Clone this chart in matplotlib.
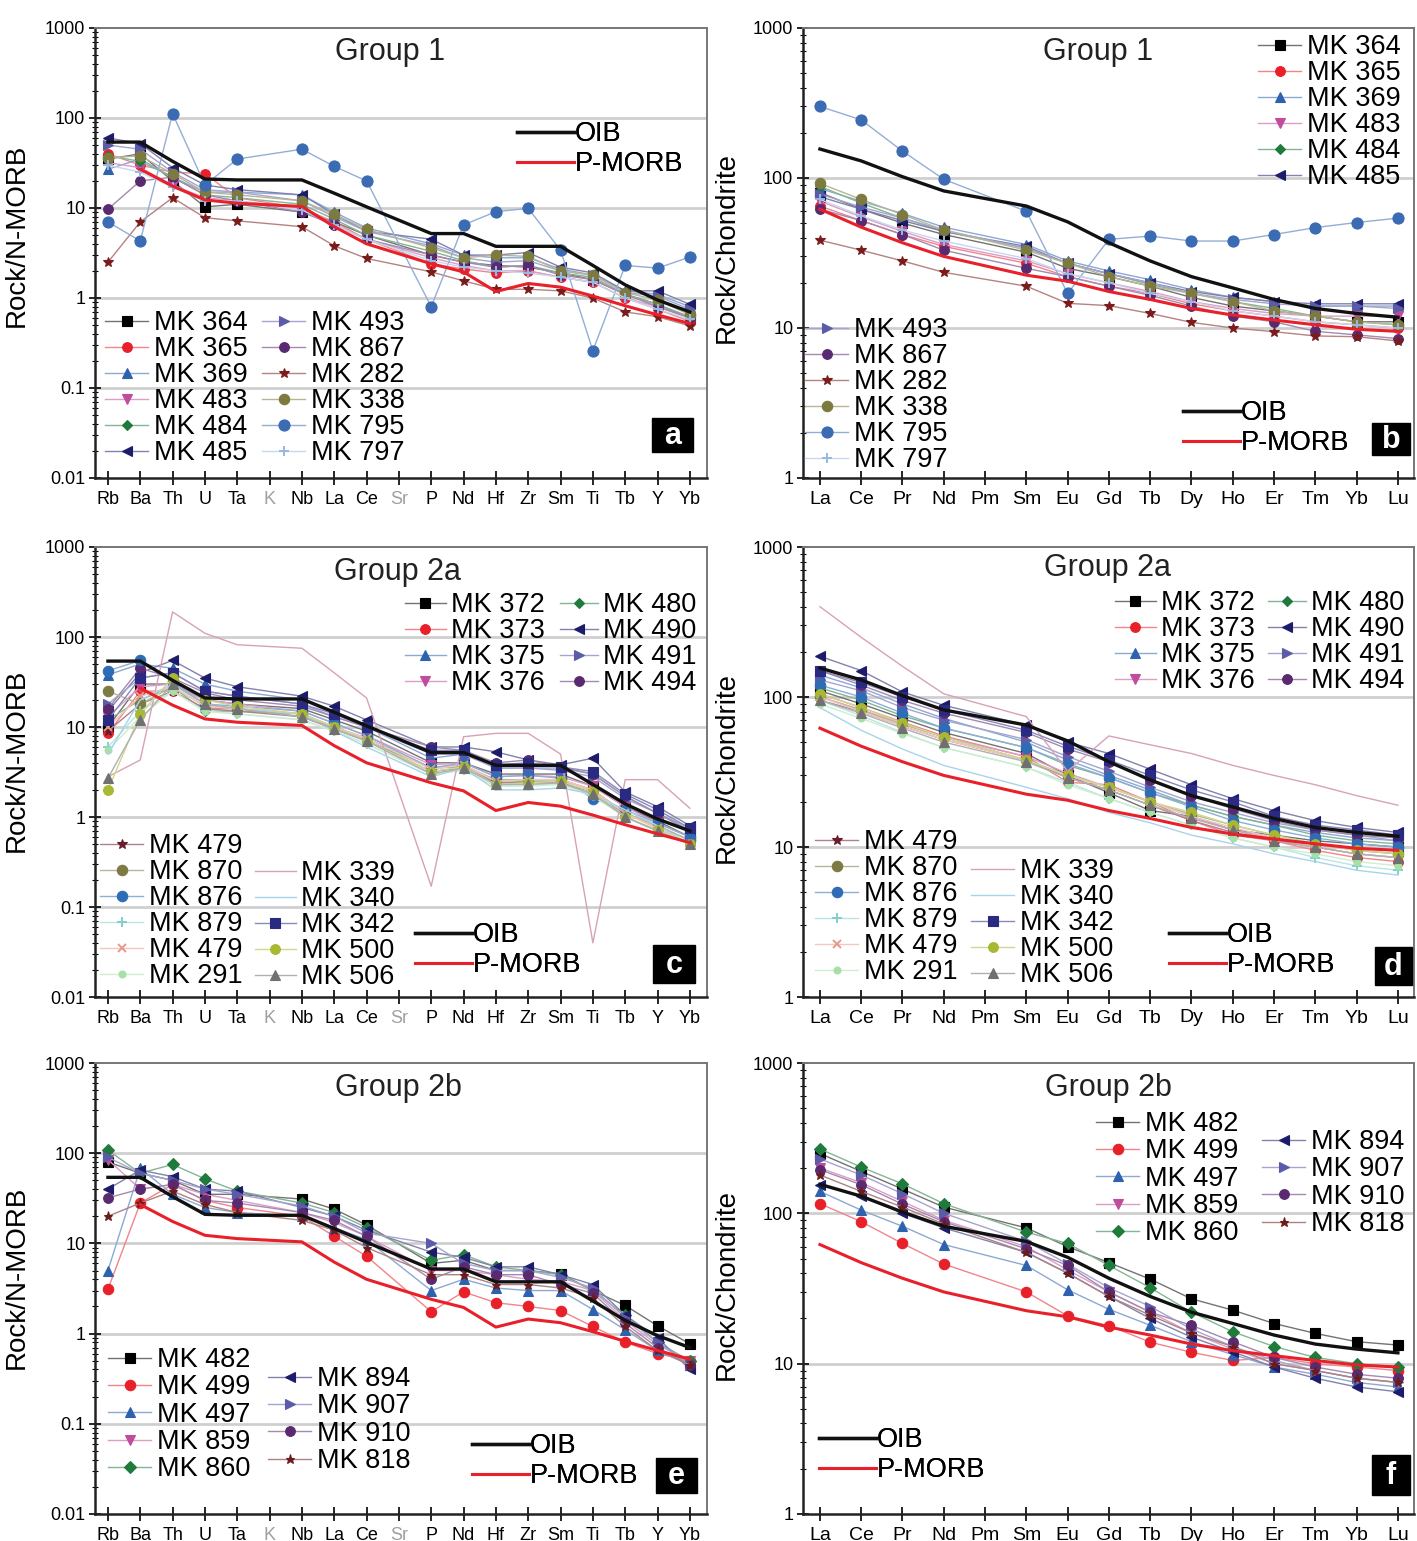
import matplotlib
matplotlib.use('Agg')
import matplotlib.pyplot as plt
import numpy as np
from matplotlib import colors as mcolors
from matplotlib.patches import Rectangle
from matplotlib.ticker import LogLocator, NullFormatter

plt.rcParams['font.family'] = ['Liberation Sans', 'DejaVu Sans']

# ---------------- data ----------------
spider_elements = ['Rb', 'Ba', 'Th', 'U', 'Ta', 'K', 'Nb', 'La', 'Ce', 'Sr',
                   'P', 'Nd', 'Hf', 'Zr', 'Sm', 'Ti', 'Tb', 'Y', 'Yb']
spider_measured = ['Rb', 'Ba', 'Th', 'U', 'Ta', 'Nb', 'La', 'Ce',
                   'P', 'Nd', 'Hf', 'Zr', 'Sm', 'Ti', 'Tb', 'Y', 'Yb']
ree_elements = ['La', 'Ce', 'Pr', 'Nd', 'Pm', 'Sm', 'Eu', 'Gd', 'Tb', 'Dy',
                'Ho', 'Er', 'Tm', 'Yb', 'Lu']
ree_measured = ['La', 'Ce', 'Pr', 'Nd', 'Sm', 'Eu', 'Gd', 'Tb', 'Dy',
                'Ho', 'Er', 'Tm', 'Yb', 'Lu']
spider_y_ticks = [0.01, 0.1, 1, 10, 100, 1000]
spider_y_labels = ['0.01', '0.1', '1', '10', '100', '1000']
ree_y_ticks = [1, 10, 100, 1000]
ree_y_labels = ['1', '10', '100', '1000']

oib_spider = [54, 54, 33, 21, 20.5, 20.5, 14.6, 10.3, 5.2, 5.2, 3.75, 3.75, 3.75, 2.3, 1.4, 0.95, 0.70]
pmorb_spider = [None, 27, 17.5, 12.3, 11.3, 10.4, 6.2, 4.0, 2.4, 1.95, 1.18, 1.45, 1.32, 1.05, 0.82, 0.65, 0.52]
oib_ree = [156, 130, 102, 82, 65, 51, 37, 28, 22, 18.5, 15.5, 13.5, 12.5, 11.8]
pmorb_ree = [62, 47, 37, 30, 22.5, 20.5, 17.5, 15.5, 13.5, 12.2, 11.3, 10.5, 9.8, 9.5]

# Group 1
g1_names = ['MK 364', 'MK 365', 'MK 369', 'MK 483', 'MK 484', 'MK 485',
            'MK 493', 'MK 867', 'MK 282', 'MK 338', 'MK 795', 'MK 797']
g1_spider = [
    [35, 40, 20, 10.3, 11, 9, 7, 5, 3.0, 2.5, 2.3, 2.2, 1.9, 1.6, 1.1, 0.85, 0.6],
    [40, 30, 25, 24, 13, 10, 7, 4.5, 2.4, 2.1, 1.9, 2.0, 1.7, 1.5, 1.0, 0.75, 0.55],
    [27, 35, 22, 15, 15, 14, 9, 6, 4, 3, 2.8, 2.8, 2.1, 1.8, 1.2, 1.1, 0.8],
    [32, 28, 18, 13, 12, 10, 6.5, 4.5, 2.8, 2.3, 2.0, 2.0, 1.7, 1.5, 1.0, 0.8, 0.6],
    [38, 33, 22, 14, 13, 11, 7.5, 5, 3.3, 2.6, 2.2, 2.3, 1.9, 1.7, 1.1, 0.85, 0.62],
    [60, 52, 28, 18, 16, 14, 8.5, 5.5, 4.5, 3, 3, 3.2, 2.2, 1.9, 1.2, 1.2, 0.85],
    [50, 45, 25, 16, 15, 12, 8, 5.5, 3.8, 2.8, 2.5, 2.6, 2.0, 1.8, 1.15, 1.05, 0.75],
    [9.7, 20, 22, 14, 12, 9, 6.5, 4.5, 3, 2.5, 2.2, 2.3, 1.8, 1.6, 1.1, 0.8, 0.6],
    [2.5, 7, 13, 7.8, 7.2, 6.2, 3.8, 2.75, 1.95, 1.55, 1.25, 1.25, 1.2, 1.0, 0.7, 0.62, 0.49],
    [36, 38, 24, 15, 14, 12, 8.5, 5.8, 3.6, 2.8, 3.0, 2.9, 2.0, 1.8, 1.15, 0.95, 0.65],
    [7, 4.3, 112, 18, 35, 45, 29, 20, 0.8, 6.5, 9.1, 9.9, 3.4, 0.26, 2.3, 2.15, 2.85],
    [30, 25, 17, 12, 12, 9.5, 6.5, 4.5, 2.6, 2.2, 2.0, 1.9, 1.7, 1.5, 1.0, 0.75, 0.58],
]
g1_ree = [
    [80, 62, 50, 42, 32, 25, 22, 19, 16, 14, 13, 12, 11, 11],
    [65, 52, 42, 35, 27, 22, 19, 17, 14.5, 13, 12, 11, 10.5, 10],
    [85, 70, 58, 47, 36, 28, 24, 21, 18, 16, 15, 14, 14, 14],
    [70, 55, 44, 36, 28, 23, 20, 17.5, 15, 13.5, 12.5, 12, 12, 12],
    [88, 68, 54, 44, 34, 27, 23, 19.5, 17, 15, 13.5, 12, 11, 10.5],
    [75, 62, 52, 44, 35, 27, 23, 20, 17.5, 16, 15, 14.5, 14.5, 14.5],
    [78, 64, 54, 45, 34, 27, 23, 20, 17, 15.5, 14.5, 14, 14, 13.5],
    [62, 52, 42, 33, 25, 22, 19, 16.5, 14, 12, 11, 9.5, 9, 8.5],
    [38.5, 33, 28, 23.5, 19, 14.6, 14.1, 12.5, 10.9, 10, 9.45, 8.85, 8.75, 8.2],
    [92, 72, 57, 45, 33, 27, 22, 19, 17, 15, 13, 12, 11, 10.5],
    [300, 244, 151, 98, 60, 17, 39, 41, 38, 38, 42, 46.7, 50.5, 54],
    [72, 56, 45, 38, 29, 23, 20, 17, 15, 13, 12, 11, 10.5, 10],
]

# Group 2a
g2a_names = ['MK 372', 'MK 373', 'MK 375', 'MK 376', 'MK 480', 'MK 490', 'MK 491', 'MK 494',
             'MK 479', 'MK 870', 'MK 876', 'MK 879', 'MK 479', 'MK 291',
             'MK 339', 'MK 340', 'MK 342', 'MK 500', 'MK 506']
g2a_spider = [
    [10, 30, 30, 20, 18, 16, 12, 9, 4, 4, 3, 3, 3, 2.2, 1.3, 0.9, 0.6],
    [8.5, 25, 25, 16, 16, 13, 10, 7.5, 3.5, 3.8, 2.5, 2.6, 2.6, 2.0, 1.1, 0.75, 0.5],
    [38, 50, 45, 30, 25, 20, 14, 10, 4.5, 5, 3.5, 3.5, 3.5, 3, 1.7, 1.1, 0.75],
    [13, 28, 30, 20, 18, 15, 11, 8, 3.8, 4, 2.8, 2.9, 2.8, 2.2, 1.3, 0.85, 0.6],
    [12, 20, 28, 15, 15, 14, 10, 7, 3.5, 3.6, 2.4, 2.5, 2.5, 1.7, 1.1, 0.8, 0.55],
    [15, 40, 55, 35, 28, 22, 17, 12, 6, 6, 5.3, 4.3, 3.8, 4.5, 1.9, 1.3, 0.8],
    [18, 35, 40, 25, 22, 18, 13, 10, 5, 5, 3.5, 3.5, 3.3, 2.8, 1.6, 1.1, 0.7],
    [16, 45, 35, 24, 20, 17, 13, 10, 6, 5.5, 4, 4.3, 3.6, 3, 1.7, 1.1, 0.7],
    [9, 18, 25, 16, 15, 13, 9.5, 7, 3.2, 3.5, 2.4, 2.4, 2.4, 1.9, 1.0, 0.7, 0.5],
    [25, 18, 28, 17, 16, 14, 10, 7.5, 3.5, 3.7, 2.6, 2.6, 2.6, 2.0, 1.1, 0.8, 0.55],
    [42, 55, 32, 18, 17, 15, 11, 8, 3.5, 4, 2.8, 2.9, 2.7, 1.6, 1.2, 0.85, 0.6],
    [6, 15, 25, 15, 14, 12, 9, 6.5, 3, 3.3, 2.2, 2.3, 2.3, 1.8, 1.0, 0.7, 0.5],
    [10, 22, 28, 17, 16, 14, 10, 7.5, 3.4, 3.8, 2.5, 2.6, 2.6, 2.0, 1.1, 0.75, 0.5],
    [5.5, 13, 25, 15, 14, 12, 9, 6.5, 3, 3.3, 2.2, 2.2, 2.3, 1.7, 1.0, 0.7, 0.5],
    [2.8, 4.3, 190, 110, 82, 75, 40, 21, 0.17, 7.8, 8.5, 8.5, 5.0, 0.04, 2.6, 2.6, 1.25],
    [5, 20, 30, 18, 16, 14, 9, 6, 2.8, 3.5, 2.0, 2.0, 2.1, 1.8, 1.2, 0.8, 0.5],
    [12, 35, 40, 25, 22, 18, 14, 10, 5.5, 5.5, 3.8, 4, 3.6, 3.2, 1.8, 1.2, 0.75],
    [2.0, 14, 35, 20, 17, 14, 10, 7, 3.2, 3.6, 2.3, 2.4, 2.5, 1.9, 1.0, 0.72, 0.5],
    [2.7, 12, 30, 18, 16, 13, 9.5, 7, 3, 3.5, 2.3, 2.3, 2.4, 1.8, 1.0, 0.7, 0.5],
]
g2a_ree = [
    [110, 90, 72, 58, 42, 30, 23, 17.5, 16, 13, 12, 11, 10.5, 10],
    [105, 85, 68, 55, 40, 27, 26, 20, 15, 12, 11, 9.5, 8.5, 8],
    [140, 115, 90, 72, 50, 38, 30, 24, 19, 16, 14, 12.5, 11.5, 11],
    [100, 82, 66, 54, 40, 31, 25, 20, 16, 13, 11.5, 10.5, 9.5, 9],
    [115, 95, 75, 62, 46, 35, 29, 23, 19, 16, 14, 12, 11, 10.5],
    [187, 150, 108, 88, 65, 50, 42, 33, 26, 21, 17.5, 15, 13.5, 12.5],
    [130, 110, 85, 70, 52, 40, 32, 25, 20, 17, 14.5, 13, 12, 11],
    [150, 120, 95, 78, 58, 45, 37, 28, 22, 18, 15, 13, 12, 11.5],
    [95, 80, 64, 52, 38, 29, 24, 19, 15, 12.5, 11, 10, 9, 8.5],
    [100, 82, 66, 54, 38, 30, 25, 20, 16.5, 14, 12, 10.5, 9.5, 9],
    [120, 100, 78, 62, 46, 36, 29, 23, 18.5, 15, 13, 11.5, 10.5, 10],
    [95, 75, 58, 46, 34, 27, 21, 17, 14, 11.5, 10, 8.5, 7.5, 7],
    [100, 80, 64, 52, 38, 30, 25, 20, 16, 13.5, 11.5, 10, 9, 8.5],
    [90, 72, 57, 46, 34, 26, 21, 17, 14, 11.5, 10, 9, 8, 7.5],
    [400, 250, 160, 105, 74, 32, 55, 48, 42, 35, 30, 26, 22, 19],
    [85, 60, 45, 35, 25, 21, 17, 14.5, 12, 10.5, 9, 8, 7, 6.5],
    [150, 125, 100, 82, 60, 47, 38, 30, 24, 20, 16, 14, 13, 12],
    [105, 85, 67, 54, 38, 30, 25, 20, 17, 14, 12, 10.5, 9.5, 9],
    [95, 78, 62, 50, 37, 29, 24, 19, 15.5, 13, 11, 10, 9, 8.5],
]

# Group 2b
g2b_names = ['MK 482', 'MK 499', 'MK 497', 'MK 859', 'MK 860',
             'MK 894', 'MK 907', 'MK 910', 'MK 818']
g2b_spider = [
    [80, 60, 50, 35, 35, 31, 24, 16, 6, 6.5, 5, 5, 4.6, 3, 2.05, 1.22, 0.77],
    [3.1, 28, 45, 30, 25, 20, 12, 7.2, 1.75, 2.9, 2.2, 2.0, 1.8, 1.2, 0.8, 0.6, 0.5],
    [5, 68, 35, 25, 22, 20, 15, 11, 3, 4, 3.2, 3.0, 3.0, 1.85, 1.1, 0.65, 0.45],
    [85, 40, 45, 35, 30, 22, 17, 12, 5, 5, 4.5, 4, 3.8, 3, 1.4, 0.75, 0.5],
    [108, 60, 75, 52, 38, 28, 22, 15, 6.5, 7.5, 5.5, 5, 4.5, 3, 1.6, 0.8, 0.5],
    [40, 65, 55, 40, 38, 25, 20, 14, 8, 7, 5.5, 5.5, 4.5, 3.5, 1.6, 0.9, 0.4],
    [90, 60, 50, 40, 35, 26, 20, 13, 10, 6, 5, 5, 4.2, 3.2, 1.5, 0.8, 0.45],
    [32, 40, 45, 30, 28, 22, 18, 12, 4, 5.5, 4.5, 4.5, 3.5, 2.8, 1.3, 0.7, 0.45],
    [20, 28, 38, 27, 22, 18, 14, 9, 4.5, 4.5, 3.5, 3.5, 3.2, 2.5, 1.2, 0.65, 0.45],
]
g2b_ree = [
    [250, 190, 145, 110, 80, 60, 47, 36.5, 27, 22.7, 18.5, 15.9, 14, 13.3],
    [116, 88, 63, 46, 30, 20.8, 17.9, 13.9, 11.9, 10.5, 11, 10, 9.5, 9],
    [140, 105, 82, 62, 45, 31, 23, 18, 14, 11.5, 9.5, 8.5, 7.5, 7],
    [200, 160, 120, 90, 60, 42, 30, 22, 16, 12.5, 10, 9, 8, 7.5],
    [268, 203, 157, 116, 75, 63, 45, 32, 22, 16.3, 13, 11, 10, 9.5],
    [155, 130, 100, 80, 55, 40, 28, 20, 15, 12, 9.5, 8, 7, 6.5],
    [230, 180, 135, 100, 65, 46, 32, 24, 17, 13, 10.5, 9, 8, 7.5],
    [195, 155, 115, 88, 58, 45, 30, 22, 18, 14, 11, 9.5, 8.5, 8],
    [180, 140, 110, 85, 55, 40, 28, 21, 16, 13, 10, 9, 8, 7.5],
]

# ---------------- styles ----------------
g1_styles = [('s', '#000000', 6.5), ('o', '#e8202a', 7), ('^', '#2f62ad', 7), ('v', '#c04c9c', 7),
             ('D', '#1f7a3c', 5.5), ('<', '#1c1c6a', 7), ('>', '#5b5ba8', 7), ('o', '#5a2a70', 7),
             ('*', '#7a1c1c', 7), ('o', '#7d7a40', 7.5), ('o', '#3b6bb2', 8), ('+', '#9ab8e0', 7)]
g2a_styles = [('s', '#000000', 6.5), ('o', '#e8202a', 7), ('^', '#2f62ad', 7), ('v', '#c04c9c', 7),
              ('D', '#1f7a3c', 5.5), ('<', '#1c1c6a', 7), ('>', '#5b5ba8', 7), ('o', '#5a2a70', 7),
              ('*', '#6a1c2a', 7), ('o', '#7d7a45', 7.5), ('o', '#2e6db5', 7.5), ('+', '#7fcfcf', 7),
              ('x', '#e89a8a', 6), ('o', '#a6e0a6', 5),
              ('None', '#d8a2b4', 0), ('None', '#a8d4ea', 0), ('s', '#2a2a82', 6.5),
              ('o', '#a8b830', 7), ('^', '#707070', 6.5)]
g2b_styles = [('s', '#000000', 6.5), ('o', '#e8202a', 7.5), ('^', '#2f62ad', 7), ('v', '#c04c9c', 7),
              ('D', '#1f7a3c', 6), ('<', '#1c1c6a', 7), ('>', '#5b5ba8', 7), ('o', '#5a2a70', 7),
              ('*', '#6a1c1c', 6.5)]

W, H = 1417, 1541
fig = plt.figure(figsize=(W / 100, H / 100), dpi=100)

rows = [(28, 478), (547, 997), (1063, 1514)]
LX = (95, 707)
RX = (803, 1414)


def lighten(c, f):
    r, g, b = mcolors.to_rgb(c)
    return (r + (1 - r) * f, g + (1 - g) * f, b + (1 - b) * f)


def make_axes(xr, yr):
    return fig.add_axes([xr[0] / W, 1 - yr[1] / H, (xr[1] - xr[0]) / W, (yr[1] - yr[0]) / H])


def style_axes(ax, elements, grey, yticks, ylabels, ylim, xlim, xfs, ylabel, lab_xy):
    ax.set_yscale('log')
    ax.set_ylim(*ylim)
    ax.set_xlim(*xlim)
    ax.set_xticks(range(len(elements)))
    ax.set_xticklabels(elements, fontsize=xfs)
    for t, e in zip(ax.get_xticklabels(), elements):
        if e in grey:
            t.set_color('#a0a0a0')
    ax.set_yticks(yticks)
    ax.set_yticklabels(ylabels, fontsize=13)
    ax.yaxis.set_minor_locator(LogLocator(base=10, subs=np.arange(2, 10), numticks=20))
    ax.yaxis.set_minor_formatter(NullFormatter())
    ax.tick_params(axis='x', direction='inout', length=10, width=1.2, pad=4)
    ax.tick_params(axis='y', which='major', direction='inout', length=8, width=1.2, pad=3)
    ax.tick_params(axis='y', which='minor', direction='inout', length=4, width=0.8)
    for yt in yticks[1:-1]:
        ax.axhline(yt, color='#cfcfcf', lw=2.0, zorder=0)
    for s in ['left', 'bottom']:
        ax.spines[s].set_color('#222222')
        ax.spines[s].set_linewidth(1.8)
    for s in ['top', 'right']:
        ax.spines[s].set_color('#777777')
        ax.spines[s].set_linewidth(1.4)
    ax.set_ylabel(ylabel, fontsize=20)
    ax.yaxis.set_label_coords(*lab_xy)


def draw_samples(ax, xs_all, measured, data, styles):
    xs = [xs_all.index(e) for e in measured]
    handles = []
    for vals, (mk, col, ms) in zip(data, styles):
        lc = lighten(col, 0.45) if mk != 'None' else col
        h, = ax.plot(xs, vals, color=lc, lw=1.0, marker=mk, mfc=col, mec=col,
                     ms=ms, mew=1.4 if mk in ('+', 'x') else 0.8, zorder=3)
        handles.append(h)
    return handles


def draw_refs(ax, xs_all, measured, oib, pmorb):
    xs = [xs_all.index(e) for e in measured]
    xo = [x for x, v in zip(xs, oib) if v is not None]
    vo = [v for v in oib if v is not None]
    xp = [x for x, v in zip(xs, pmorb) if v is not None]
    vp = [v for v in pmorb if v is not None]
    h1, = ax.plot(xo, vo, color='#111111', lw=2.4, zorder=6)
    h2, = ax.plot(xp, vp, color='#e8202a', lw=2.2, zorder=5)
    return h1, h2


def add_leg(ax, handles, labels, x, y, fs=19.5, ls=0.0, hl=1.6, htp=0.2):
    lg = ax.legend(handles, labels, loc='upper left',
                   bbox_to_anchor=(x / W, 1 - (y - 13) / H), bbox_transform=fig.transFigure,
                   frameon=False, fontsize=fs, labelspacing=ls, handlelength=hl,
                   handletextpad=htp, borderpad=0, borderaxespad=0, numpoints=1)
    ax.add_artist(lg)


def panel_tag(x0, y0, x1, y1, s):
    fig.add_artist(Rectangle((x0 / W, 1 - y1 / H), (x1 - x0) / W, (y1 - y0) / H,
                             transform=fig.transFigure, facecolor='black', edgecolor='black',
                             zorder=10))
    fig.text((x0 + x1) / 2 / W, 1 - ((y0 + y1) / 2 + 1) / H, s, ha='center', va='center',
             fontsize=22, color='white', fontweight='bold', zorder=11)


def title(x, y, s):
    fig.text(x / W, 1 - y / H, s, ha='center', va='center', fontsize=22, color='#222222')


spider_xlim = (-0.4, 18.53)
ree_xlim = (-0.41, 14.39)

# ---------------- panel a ----------------
ax = make_axes(LX, rows[0])
style_axes(ax, spider_elements, ('K', 'Sr'), spider_y_ticks, spider_y_labels, (0.01, 1000),
           spider_xlim, 13, 'Rock/N-MORB', (-0.106, 0.54))
hs = draw_samples(ax, spider_elements, spider_measured, g1_spider, g1_styles)
r1, r2 = draw_refs(ax, spider_elements, spider_measured, oib_spider, pmorb_spider)
add_leg(ax, hs[:6], g1_names[:6], 105, 323)
add_leg(ax, hs[6:], g1_names[6:], 262, 323)
add_leg(ax, [r1, r2], ['OIB', 'P-MORB'], 517, 134, ls=0.15, hl=2.1, htp=0.05)
title(390, 52, 'Group 1')
panel_tag(652, 418, 693, 452, 'a')

# ---------------- panel b ----------------
ax = make_axes(RX, rows[0])
style_axes(ax, ree_elements, (), ree_y_ticks, ree_y_labels, (1, 1000),
           ree_xlim, 14, 'Rock/Chondrite', (-0.103, 0.513))
hs = draw_samples(ax, ree_elements, ree_measured, g1_ree, g1_styles)
r1, r2 = draw_refs(ax, ree_elements, ree_measured, oib_ree, pmorb_ree)
add_leg(ax, hs[:6], g1_names[:6], 1258, 47)
add_leg(ax, hs[6:], g1_names[6:], 805, 330)
add_leg(ax, [r1, r2], ['OIB', 'P-MORB'], 1183, 413, ls=0.15, hl=2.1, htp=0.05)
title(1098, 52, 'Group 1')
panel_tag(1372, 423, 1410, 455, 'b')

# ---------------- panel c ----------------
ax = make_axes(LX, rows[1])
style_axes(ax, spider_elements, ('K', 'Sr'), spider_y_ticks, spider_y_labels, (0.01, 1000),
           spider_xlim, 13, 'Rock/N-MORB', (-0.106, 0.527))
hs = draw_samples(ax, spider_elements, spider_measured, g2a_spider, g2a_styles)
r1, r2 = draw_refs(ax, spider_elements, spider_measured, oib_spider, pmorb_spider)
add_leg(ax, hs[0:4], g2a_names[0:4], 405, 605, hl=1.5)
add_leg(ax, hs[4:8], g2a_names[4:8], 560, 605, hl=1.4)
add_leg(ax, hs[8:14], g2a_names[8:14], 100, 846)
add_leg(ax, hs[14:], g2a_names[14:], 255, 873, hl=1.5)
add_leg(ax, [r1, r2], ['OIB', 'P-MORB'], 415, 935, ls=0.15, hl=2.1, htp=0.05)
title(397, 572, 'Group 2a')
panel_tag(653, 945, 695, 983, 'c')

# ---------------- panel d ----------------
ax = make_axes(RX, rows[1])
style_axes(ax, ree_elements, (), ree_y_ticks, ree_y_labels, (1, 1000),
           ree_xlim, 14, 'Rock/Chondrite', (-0.103, 0.511))
hs = draw_samples(ax, ree_elements, ree_measured, g2a_ree, g2a_styles)
r1, r2 = draw_refs(ax, ree_elements, ree_measured, oib_ree, pmorb_ree)
add_leg(ax, hs[0:4], g2a_names[0:4], 1115, 603, hl=1.5)
add_leg(ax, hs[4:8], g2a_names[4:8], 1268, 603, hl=1.4)
add_leg(ax, hs[8:14], g2a_names[8:14], 815, 842)
add_leg(ax, hs[14:], g2a_names[14:], 971, 871, hl=1.6)
add_leg(ax, [r1, r2], ['OIB', 'P-MORB'], 1169, 935, ls=0.15, hl=2.1, htp=0.05)
title(1108, 568, 'Group 2a')
panel_tag(1375, 947, 1412, 985, 'd')

# ---------------- panel e ----------------
ax = make_axes(LX, rows[2])
style_axes(ax, spider_elements, ('K', 'Sr'), spider_y_ticks, spider_y_labels, (0.01, 1000),
           spider_xlim, 13, 'Rock/N-MORB', (-0.106, 0.524))
hs = draw_samples(ax, spider_elements, spider_measured, g2b_spider, g2b_styles)
r1, r2 = draw_refs(ax, spider_elements, spider_measured, oib_spider, pmorb_spider)
add_leg(ax, hs[0:5], g2b_names[0:5], 108, 1360, ls=0.05)
add_leg(ax, hs[5:], g2b_names[5:], 268, 1379, ls=0.05)
add_leg(ax, [r1, r2], ['OIB', 'P-MORB'], 472, 1446, ls=0.15, hl=2.1, htp=0.05)
title(398, 1088, 'Group 2b')
panel_tag(656, 1458, 697, 1493, 'e')

# ---------------- panel f ----------------
ax = make_axes(RX, rows[2])
style_axes(ax, ree_elements, (), ree_y_ticks, ree_y_labels, (1, 1000),
           ree_xlim, 14, 'Rock/Chondrite', (-0.103, 0.509))
hs = draw_samples(ax, ree_elements, ree_measured, g2b_ree, g2b_styles)
r1, r2 = draw_refs(ax, ree_elements, ree_measured, oib_ree, pmorb_ree)
add_leg(ax, hs[0:5], g2b_names[0:5], 1096, 1124, ls=0.05)
add_leg(ax, hs[5:], g2b_names[5:], 1262, 1142, ls=0.05)
add_leg(ax, [r1, r2], ['OIB', 'P-MORB'], 819, 1440, ls=0.15, hl=2.1, htp=0.05)
title(1108, 1088, 'Group 2b')
panel_tag(1372, 1455, 1410, 1495, 'f')

fig.savefig('out.png', dpi=100)
